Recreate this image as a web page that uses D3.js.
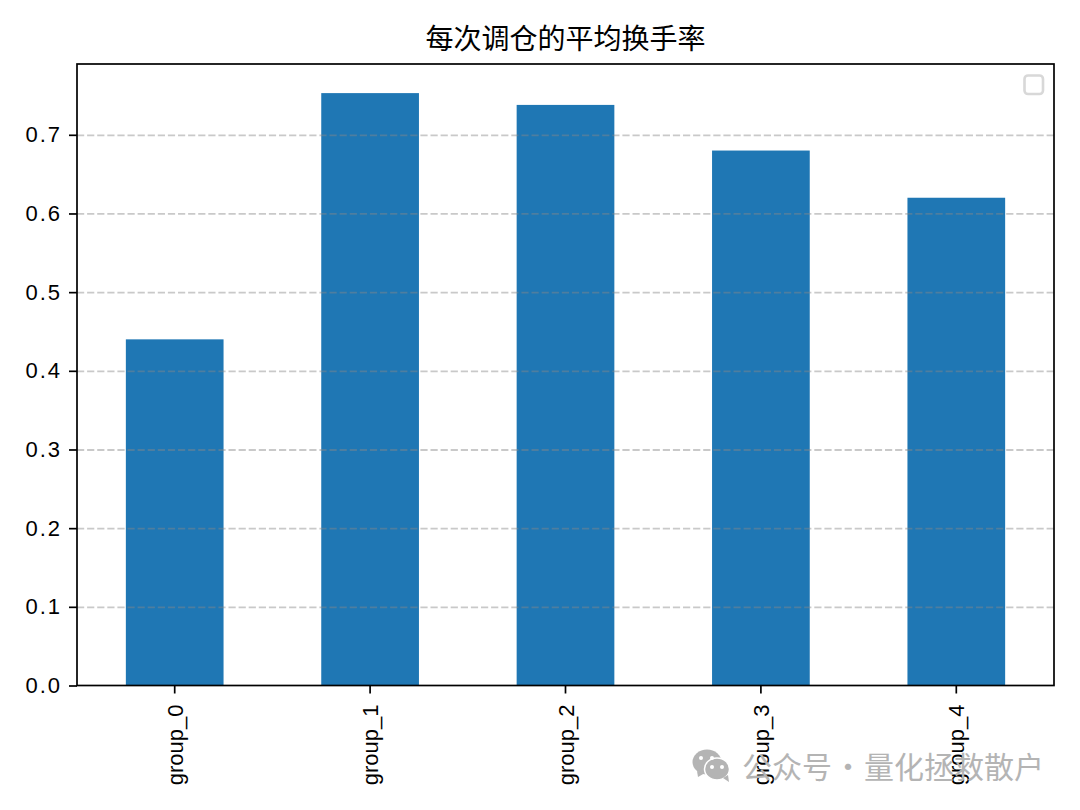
<!DOCTYPE html>
<html>
<head>
<meta charset="utf-8">
<script src="https://cdn.jsdelivr.net/npm/d3@7"></script>
<style>
    html, body { margin: 0; padding: 0; background: #fff; }
    svg { display: block; }
    .tick text { font-family: "Liberation Sans", sans-serif; fill: #000; }
</style>
</head>
<body>
<svg id="chart"></svg>
<script>
var categories = ["group_0", "group_1", "group_2", "group_3", "group_4"];
var turnover = [0.44, 0.753, 0.738, 0.68, 0.62];
var yTicks = [0, 0.1, 0.2, 0.3, 0.4, 0.5, 0.6, 0.7];
var titleText = "每次调仓的平均换手率";
var watermarkParts = ["公众号", "·", "量化拯救散户"];

var width = 1080;
var height = 810;
var margin = {top: 64, right: 26, bottom: 125, left: 77};
var cjk = '"Noto Sans CJK SC", sans-serif';

var svg = d3.select("#chart").attr("width", width).attr("height", height);

var scaleX = d3.scaleBand().domain(categories)
    .range([margin.left, width - margin.right])
    .paddingInner(0.5).paddingOuter(0.25);
var scaleY = d3.scaleLinear().domain([0, 0.79])
    .range([height - margin.bottom + 0.5, margin.top]);

// Bars
svg.selectAll("rect.bar").data(turnover).enter().append("rect")
    .attr("class", "bar")
    .attr("x", function(d, i) {return scaleX(categories[i])})
    .attr("y", function(d) {return scaleY(d)})
    .attr("width", scaleX.bandwidth())
    .attr("height", function(d) {return scaleY(0) - scaleY(d)})
    .attr("fill", "#1f77b4");

// Grid sits on top of the bars
svg.append("g")
    .attr("transform", "translate(" + margin.left + ", 0)")
    .call(d3.axisLeft(scaleY).tickValues(yTicks.slice(1)).tickSize(-(width - margin.left - margin.right)).tickFormat(""))
    .call(function(g) {
        g.select(".domain").remove();
        g.selectAll("line")
            .attr("stroke", "#888")
            .attr("stroke-opacity", 0.45)
            .attr("stroke-width", 1.8)
            .attr("stroke-dasharray", "7.2,2.9");
    });

// Frame
svg.append("rect")
    .attr("x", margin.left)
    .attr("y", margin.top)
    .attr("width", width - margin.left - margin.right)
    .attr("height", scaleY(0) - margin.top)
    .attr("fill", "none")
    .attr("stroke", "#000")
    .attr("stroke-width", 1.7);

// Axes
var axisY = svg.append("g")
    .attr("transform", "translate(" + margin.left + ", 0)")
    .call(d3.axisLeft(scaleY).tickValues(yTicks).tickSize(8).tickPadding(7).tickFormat(d3.format(".1f")));
axisY.select(".domain").remove();
axisY.selectAll("line").attr("stroke", "#000").attr("stroke-width", 1.7);
axisY.selectAll("text").attr("font-size", 22).attr("letter-spacing", 2);

var axisX = svg.append("g")
    .attr("transform", "translate(0," + scaleY(0) + ")")
    .call(d3.axisBottom(scaleX).tickSize(8));
axisX.select(".domain").remove();
axisX.selectAll("line").attr("stroke", "#000").attr("stroke-width", 1.7);
axisX.selectAll("text")
    .attr("font-size", 22)
    .attr("text-anchor", "end")
    .attr("dx", 0)
    .attr("dy", 0)
    .attr("y", 0)
    .attr("transform", "translate(8, 19) rotate(-90)");

// Title
svg.append("text")
    .text(titleText)
    .attr("x", (margin.left + width - margin.right) / 2)
    .attr("y", 49)
    .attr("text-anchor", "middle")
    .attr("font-family", cjk)
    .attr("font-size", 28)
    .attr("fill", "#000");

// Empty legend box
svg.append("rect")
    .attr("x", 1024.5)
    .attr("y", 75.5)
    .attr("width", 18.5)
    .attr("height", 18.5)
    .attr("rx", 3.5)
    .attr("fill", "#fff")
    .attr("stroke", "#d8d8d8")
    .attr("stroke-width", 2.6);

// Watermark
var mark = svg.append("g").attr("fill", "#b4b4b4");
mark.append("ellipse").attr("cx", 707).attr("cy", 762).attr("rx", 14.5).attr("ry", 12.5);
mark.append("path").attr("d", "M697 771 L698 777 L705 773 Z");
mark.append("ellipse").attr("cx", 717).attr("cy", 769).attr("rx", 12.5).attr("ry", 11)
    .attr("stroke", "#fff").attr("stroke-width", 1.5);
mark.append("path").attr("d", "M723 778 L729 782 L728 775 Z");
var eyes = [[701, 758], [712, 758], [712, 767], [722, 767]];
svg.append("g").selectAll("circle").data(eyes).enter().append("circle")
    .attr("cx", function(d) {return d[0]})
    .attr("cy", function(d) {return d[1]})
    .attr("r", 2)
    .attr("fill", "#fff");

svg.append("g").selectAll("text").data(watermarkParts).enter().append("text")
    .text(function(d) {return d})
    .attr("x", function(d, i) {return [742, 848, 1044][i]})
    .attr("y", 778)
    .attr("text-anchor", function(d, i) {return ["start", "middle", "end"][i]})
    .attr("font-family", cjk)
    .attr("font-size", 30)
    .attr("fill", "#b4b4b4");
</script>
</body>
</html>
